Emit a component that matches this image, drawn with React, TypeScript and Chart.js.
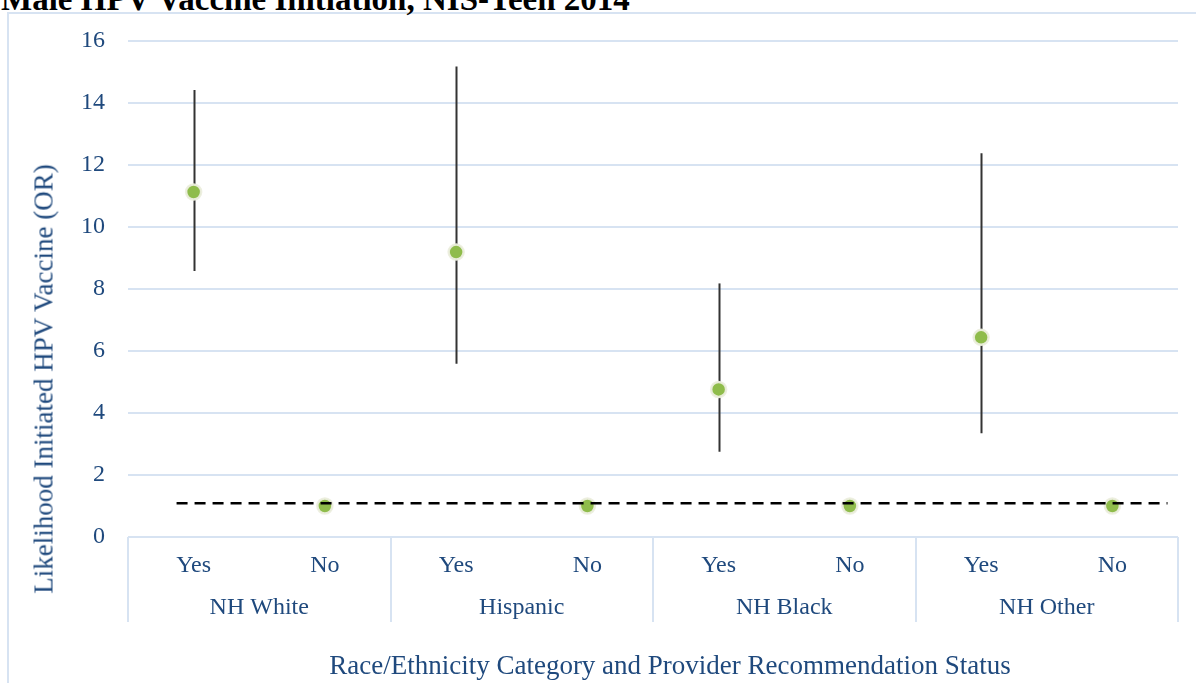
import React, { useEffect, useRef } from "react";
import { Chart, registerables } from "chart.js";

Chart.register(...registerables);

const categories = ["Yes", "No", "Yes", "No", "Yes", "No", "Yes", "No"];
const groups = ["NH White", "Hispanic", "NH Black", "NH Other"];
const oddsRatio = [11.13, 1.0, 9.19, 1.0, 4.76, 1.0, 6.44, 1.0];
const ciLower = [8.58, null, 5.59, null, 2.75, null, 3.35, null];
const ciUpper = [14.42, null, 15.18, null, 8.18, null, 12.38, null];
const refLineY = [1.09, 1.09];
const refLineX = [0.37, 7.92];
const yTicks = { min: 0, max: 16, step: 2 };

const TEXT = "#1f497d";
const GRID = "#d7e3f2";
const FONT = "'Liberation Serif', 'Times New Roman', serif";

const extrasPlugin = {
  id: "extras",
  beforeDatasetsDraw(chart: any) {
    const { ctx } = chart;
    const x = chart.scales.x;
    const y = chart.scales.y;
    ctx.save();
    ctx.strokeStyle = "#333333";
    ctx.lineWidth = 2;
    for (let i = 0; i < oddsRatio.length; i++) {
      const lo = ciLower[i];
      const hi = ciUpper[i];
      if (lo == null || hi == null) continue;
      const px = Math.round(x.getPixelForValue(i)) + 0.5;
      ctx.beginPath();
      ctx.moveTo(px, y.getPixelForValue(lo));
      ctx.lineTo(px, y.getPixelForValue(hi));
      ctx.stroke();
    }
    ctx.restore();
  },
  afterDraw(chart: any) {
    const { ctx, chartArea } = chart;
    const x = chart.scales.x;
    const step = x.getPixelForValue(1) - x.getPixelForValue(0);
    ctx.save();
    ctx.strokeStyle = GRID;
    ctx.lineWidth = 2;
    for (let g = 0; g <= groups.length; g++) {
      const px = Math.round(x.getPixelForValue(g * 2) - step / 2);
      ctx.beginPath();
      ctx.moveTo(px, chartArea.bottom);
      ctx.lineTo(px, chartArea.bottom + 85);
      ctx.stroke();
    }
    ctx.restore();
  },
};

export default function App() {
  const ref = useRef<HTMLCanvasElement | null>(null);

  useEffect(() => {
    if (!ref.current) return;
    const chart = new Chart(ref.current, {
      type: "line",
      data: {
        labels: categories,
        datasets: [
          {
            label: "OR = 1",
            data: refLineX.map((v, i) => ({ x: v, y: refLineY[i] })),
            xAxisID: "xl",
            borderColor: "#000000",
            borderWidth: 2.5,
            borderDash: [11, 7],
            pointRadius: 0,
            fill: false,
            order: 0,
          } as any,
          {
            label: "Odds ratio",
            data: oddsRatio,
            xAxisID: "x",
            showLine: false,
            pointRadius: 7.5,
            pointBackgroundColor: "#8fbc4b",
            pointBorderColor: "rgba(236,238,222,0.95)",
            pointBorderWidth: 2.5,
            order: 1,
          },
        ],
      },
      options: {
        animation: false,
        responsive: true,
        maintainAspectRatio: false,
        layout: { padding: { top: 41, right: 18, left: 0, bottom: 0 } },
        plugins: {
          legend: { display: false },
          tooltip: { enabled: false },
          title: { display: false },
        },
        scales: {
          x: {
            type: "category",
            position: "bottom",
            offset: true,
            grid: { display: false, drawTicks: false },
            border: { display: false },
            ticks: {
              color: TEXT,
              font: { family: FONT, size: 24 },
              padding: 14,
              maxRotation: 0,
              autoSkip: false,
            },
            afterFit(scale: any) {
              scale.height = 50;
            },
          },
          x2: {
            type: "category",
            position: "bottom",
            labels: groups,
            offset: true,
            grid: { display: false, drawTicks: false },
            border: { display: false },
            ticks: {
              color: TEXT,
              font: { family: FONT, size: 24 },
              padding: 6,
              maxRotation: 0,
              autoSkip: false,
            },
            afterFit(scale: any) {
              scale.height = 96;
            },
          },
          xl: {
            type: "linear",
            display: false,
            min: 0,
            max: 8,
          },
          y: {
            min: yTicks.min,
            max: yTicks.max,
            grid: { color: GRID, lineWidth: 2, drawTicks: false },
            border: { display: false },
            ticks: {
              stepSize: yTicks.step,
              color: TEXT,
              font: { family: FONT, size: 24 },
              padding: 23,
            },
            afterFit(scale: any) {
              scale.width = 128;
            },
          },
        },
      },
      plugins: [extrasPlugin],
    } as any);
    return () => chart.destroy();
  }, []);

  return (
    <div
      style={{
        position: "fixed",
        left: 0,
        top: 0,
        width: 1196,
        height: 683,
        overflow: "hidden",
        background: "#ffffff",
      }}
    >
      <div
        style={{
          position: "absolute",
          left: 7,
          top: 12,
          width: 1300,
          height: 800,
          border: `2px solid ${GRID}`,
          boxSizing: "border-box",
        }}
      />
      <div
        style={{
          position: "absolute",
          left: 1,
          top: -17,
          fontFamily: FONT,
          fontWeight: "bold",
          fontSize: 33,
          lineHeight: "33px",
          whiteSpace: "nowrap",
          color: "#000000",
        }}
      >
        Male HPV Vaccine Initiation, NIS-Teen 2014
      </div>
      <div style={{ position: "absolute", left: 0, top: 0, width: 1196, height: 683 }}>
        <canvas ref={ref} />
      </div>
      <div
        style={{
          position: "absolute",
          left: 44,
          top: 379,
          transform: "translate(-50%, -50%) rotate(-90deg)",
          fontFamily: FONT,
          fontSize: 27,
          lineHeight: "27px",
          whiteSpace: "nowrap",
          color: TEXT,
        }}
      >
        Likelihood Initiated HPV Vaccine (OR)
      </div>
      <div
        style={{
          position: "absolute",
          left: 670,
          top: 652,
          transform: "translateX(-50%)",
          fontFamily: FONT,
          fontSize: 27,
          lineHeight: "27px",
          whiteSpace: "nowrap",
          color: TEXT,
        }}
      >
        Race/Ethnicity Category and Provider Recommendation Status
      </div>
    </div>
  );
}
